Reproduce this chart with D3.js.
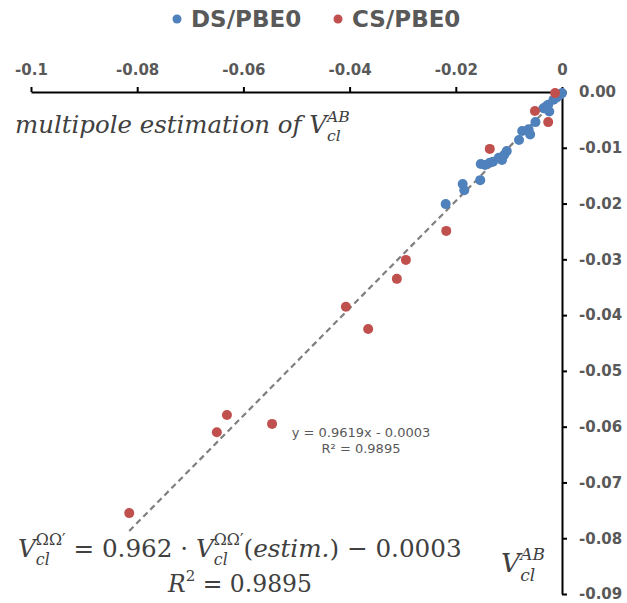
<!DOCTYPE html>
<html>
<head>
<meta charset="utf-8">
<title>multipole scatter</title>
<script src="https://d3js.org/d3.v7.min.js"></script>
<style>
  body { margin: 0; background: #fff; }
  svg { display: block; }
  svg text { white-space: pre; }
  .tick text { font-family: "DejaVu Sans", sans-serif; font-weight: bold; fill: #595959; }
</style>
</head>
<body>
<svg id="chart" width="627" height="603"></svg>
<script>
// values
const seriesNames = ["DS/PBE0", "CS/PBE0"];
const seriesColors = ["#4f81bd", "#c0504d"];

const dsX = [-0.0219, -0.0187, -0.0184, -0.0154, -0.0153, -0.0145, -0.0136, -0.0130, -0.0119, -0.0113,
             -0.0109, -0.0104, -0.0081, -0.0075, -0.0063, -0.0060, -0.0050, -0.0035, -0.0030, -0.0026,
             -0.0024, -0.0016, -0.0010, -0.0004, 0.0000];
const dsY = [-0.0201, -0.0165, -0.0176, -0.0158, -0.0129, -0.0131, -0.0127, -0.0125, -0.0118, -0.0122,
             -0.0113, -0.0106, -0.0086, -0.0070, -0.0067, -0.0076, -0.0054, -0.0029, -0.0026, -0.0023,
             -0.0035, -0.0014, -0.0010, -0.0005, -0.0002];

const csX = [-0.0815, -0.0650, -0.0631, -0.0546, -0.0407, -0.0365, -0.0311, -0.0294, -0.0218, -0.0136,
             -0.0051, -0.0026, -0.0013];
const csY = [-0.0755, -0.0610, -0.0579, -0.0595, -0.0385, -0.0425, -0.0335, -0.0301, -0.0249, -0.0102,
             -0.0034, -0.0054, -0.0002];

const xTicks = [-0.1, -0.08, -0.06, -0.04, -0.02, 0];
const xTickLabels = ["-0.1", "-0.08", "-0.06", "-0.04", "-0.02", "0"];
const yTicks = [0, -0.01, -0.02, -0.03, -0.04, -0.05, -0.06, -0.07, -0.08, -0.09];
const yTickLabels = ["0.00", "-0.01", "-0.02", "-0.03", "-0.04", "-0.05", "-0.06", "-0.07", "-0.08", "-0.09"];

const slope = 0.9619, intercept = -0.0003;
const trendLabel = ["y = 0.9619x - 0.0003", "R\u00b2 = 0.9895"];

const svg = d3.select("#chart");

const x = d3.scaleLinear().domain([-0.1, 0]).range([31, 562]);
const y = d3.scaleLinear().domain([0, -0.09]).range([92, 594]);

// legend
const legend = svg.append("g");
seriesNames.forEach((name, i) => {
    const lx = [177, 338][i];
    legend.append("circle").attr("cx", lx).attr("cy", 19).attr("r", 4.5).attr("fill", seriesColors[i]);
    legend.append("text")
        .attr("x", lx + 14).attr("y", 27)
        .attr("font-family", "DejaVu Sans").attr("font-weight", "bold")
        .attr("font-size", 23).attr("fill", "#595959")
        .text(name);
});

// top axis
svg.append("g")
    .attr("transform", `translate(0,${y(0)})`)
    .call(d3.axisTop(x).tickValues(xTicks).tickSize(5).tickSizeOuter(0).tickPadding(12)
        .tickFormat((d, i) => xTickLabels[i]));

// right axis
svg.append("g")
    .attr("transform", `translate(${x(0)},0)`)
    .call(d3.axisRight(y).tickValues(yTicks).tickSize(5).tickSizeOuter(0).tickPadding(12)
        .tickFormat((d, i) => yTickLabels[i]));

svg.selectAll(".domain").attr("stroke", "#000").attr("stroke-width", 2);
svg.selectAll(".tick line").attr("stroke", "#000").attr("stroke-width", 2);
svg.selectAll(".tick text").attr("font-size", 15).attr("font-family", null);

// trendline
const xMin = d3.min(csX.concat(dsX)), xMax = d3.max(csX.concat(dsX));
svg.append("line")
    .attr("x1", x(xMin)).attr("y1", y(slope * xMin + intercept))
    .attr("x2", x(xMax)).attr("y2", y(slope * xMax + intercept))
    .attr("stroke", "#7f7f7f").attr("stroke-width", 2.2).attr("stroke-dasharray", "6,4");

// points
const dots = svg.append("g");
dots.selectAll(".ds").data(d3.zip(dsX, dsY)).join("circle")
    .attr("class", "ds")
    .attr("cx", d => x(d[0])).attr("cy", d => y(d[1])).attr("r", 5)
    .attr("fill", seriesColors[0]);
dots.selectAll(".cs").data(d3.zip(csX, csY)).join("circle")
    .attr("class", "cs")
    .attr("cx", d => x(d[0])).attr("cy", d => y(d[1])).attr("r", 5)
    .attr("fill", seriesColors[1]);

// trendline label
svg.append("text")
    .attr("font-family", "DejaVu Sans").attr("font-size", 13).attr("fill", "#595959")
    .attr("text-anchor", "middle")
    .selectAll("tspan").data(trendLabel).join("tspan")
    .attr("x", 361).attr("y", (d, i) => 437 + i * 16)
    .text(d => d);

// math text: pieces laid out left to right, sub/sup stacked over each other
function layoutMath(g, size, parts) {
    g.selectAll("*").remove();
    let cx = 0, stackStart = 0, stackW = 0;
    parts.forEach(p => {
        const small = p.sub || p.sup;
        const t = g.append("text")
            .attr("font-family", "DejaVu Serif")
            .attr("font-style", p.it ? "italic" : "normal")
            .attr("font-size", small ? size * 0.64 : size).attr("fill", "#404040")
            .attr("y", p.sub ? size * 0.33 : p.sup ? -size * 0.47 : 0)
            .text(p.t);
        const start = p.stack ? stackStart : cx;
        t.attr("x", start);
        const w = t.node().getComputedTextLength();
        if (p.stack) {
            cx = stackStart + Math.max(stackW, w);
        } else {
            stackStart = cx; stackW = w;
            cx += w;
        }
    });
    return cx;
}

function mathText(x0, y0, width, parts, anchor) {
    const g = svg.append("g");
    const w0 = layoutMath(g, 20, parts);
    const w = layoutMath(g, 20 * width / w0, parts);
    const shift = anchor === "middle" ? -w / 2 : 0;
    g.attr("transform", `translate(${x0 + shift},${y0})`);
}

mathText(15, 133, 335, [
    {t: "multipole estimation of ", it: true},
    {t: "V", it: true},
    {t: "cl", it: true, sub: true},
    {t: "AB", it: true, sup: true, stack: true}
]);

mathText(501, 572, 44, [
    {t: "V", it: true},
    {t: "cl", it: true, sub: true},
    {t: "AB", it: true, sup: true, stack: true}
]);

mathText(18, 557, 444, [
    {t: "V", it: true},
    {t: "cl", it: true, sub: true},
    {t: "\u03a9\u03a9\u2032", sup: true, stack: true},
    {t: " = 0.962 \u00b7 "},
    {t: "V", it: true},
    {t: "cl", it: true, sub: true},
    {t: "\u03a9\u03a9\u2032", sup: true, stack: true},
    {t: "("},
    {t: "estim.", it: true},
    {t: ") \u2212 0.0003"}
]);

mathText(240, 592, 144, [
    {t: "R", it: true},
    {t: "2", sup: true},
    {t: " = 0.9895"}
], "middle");
</script>
</body>
</html>
